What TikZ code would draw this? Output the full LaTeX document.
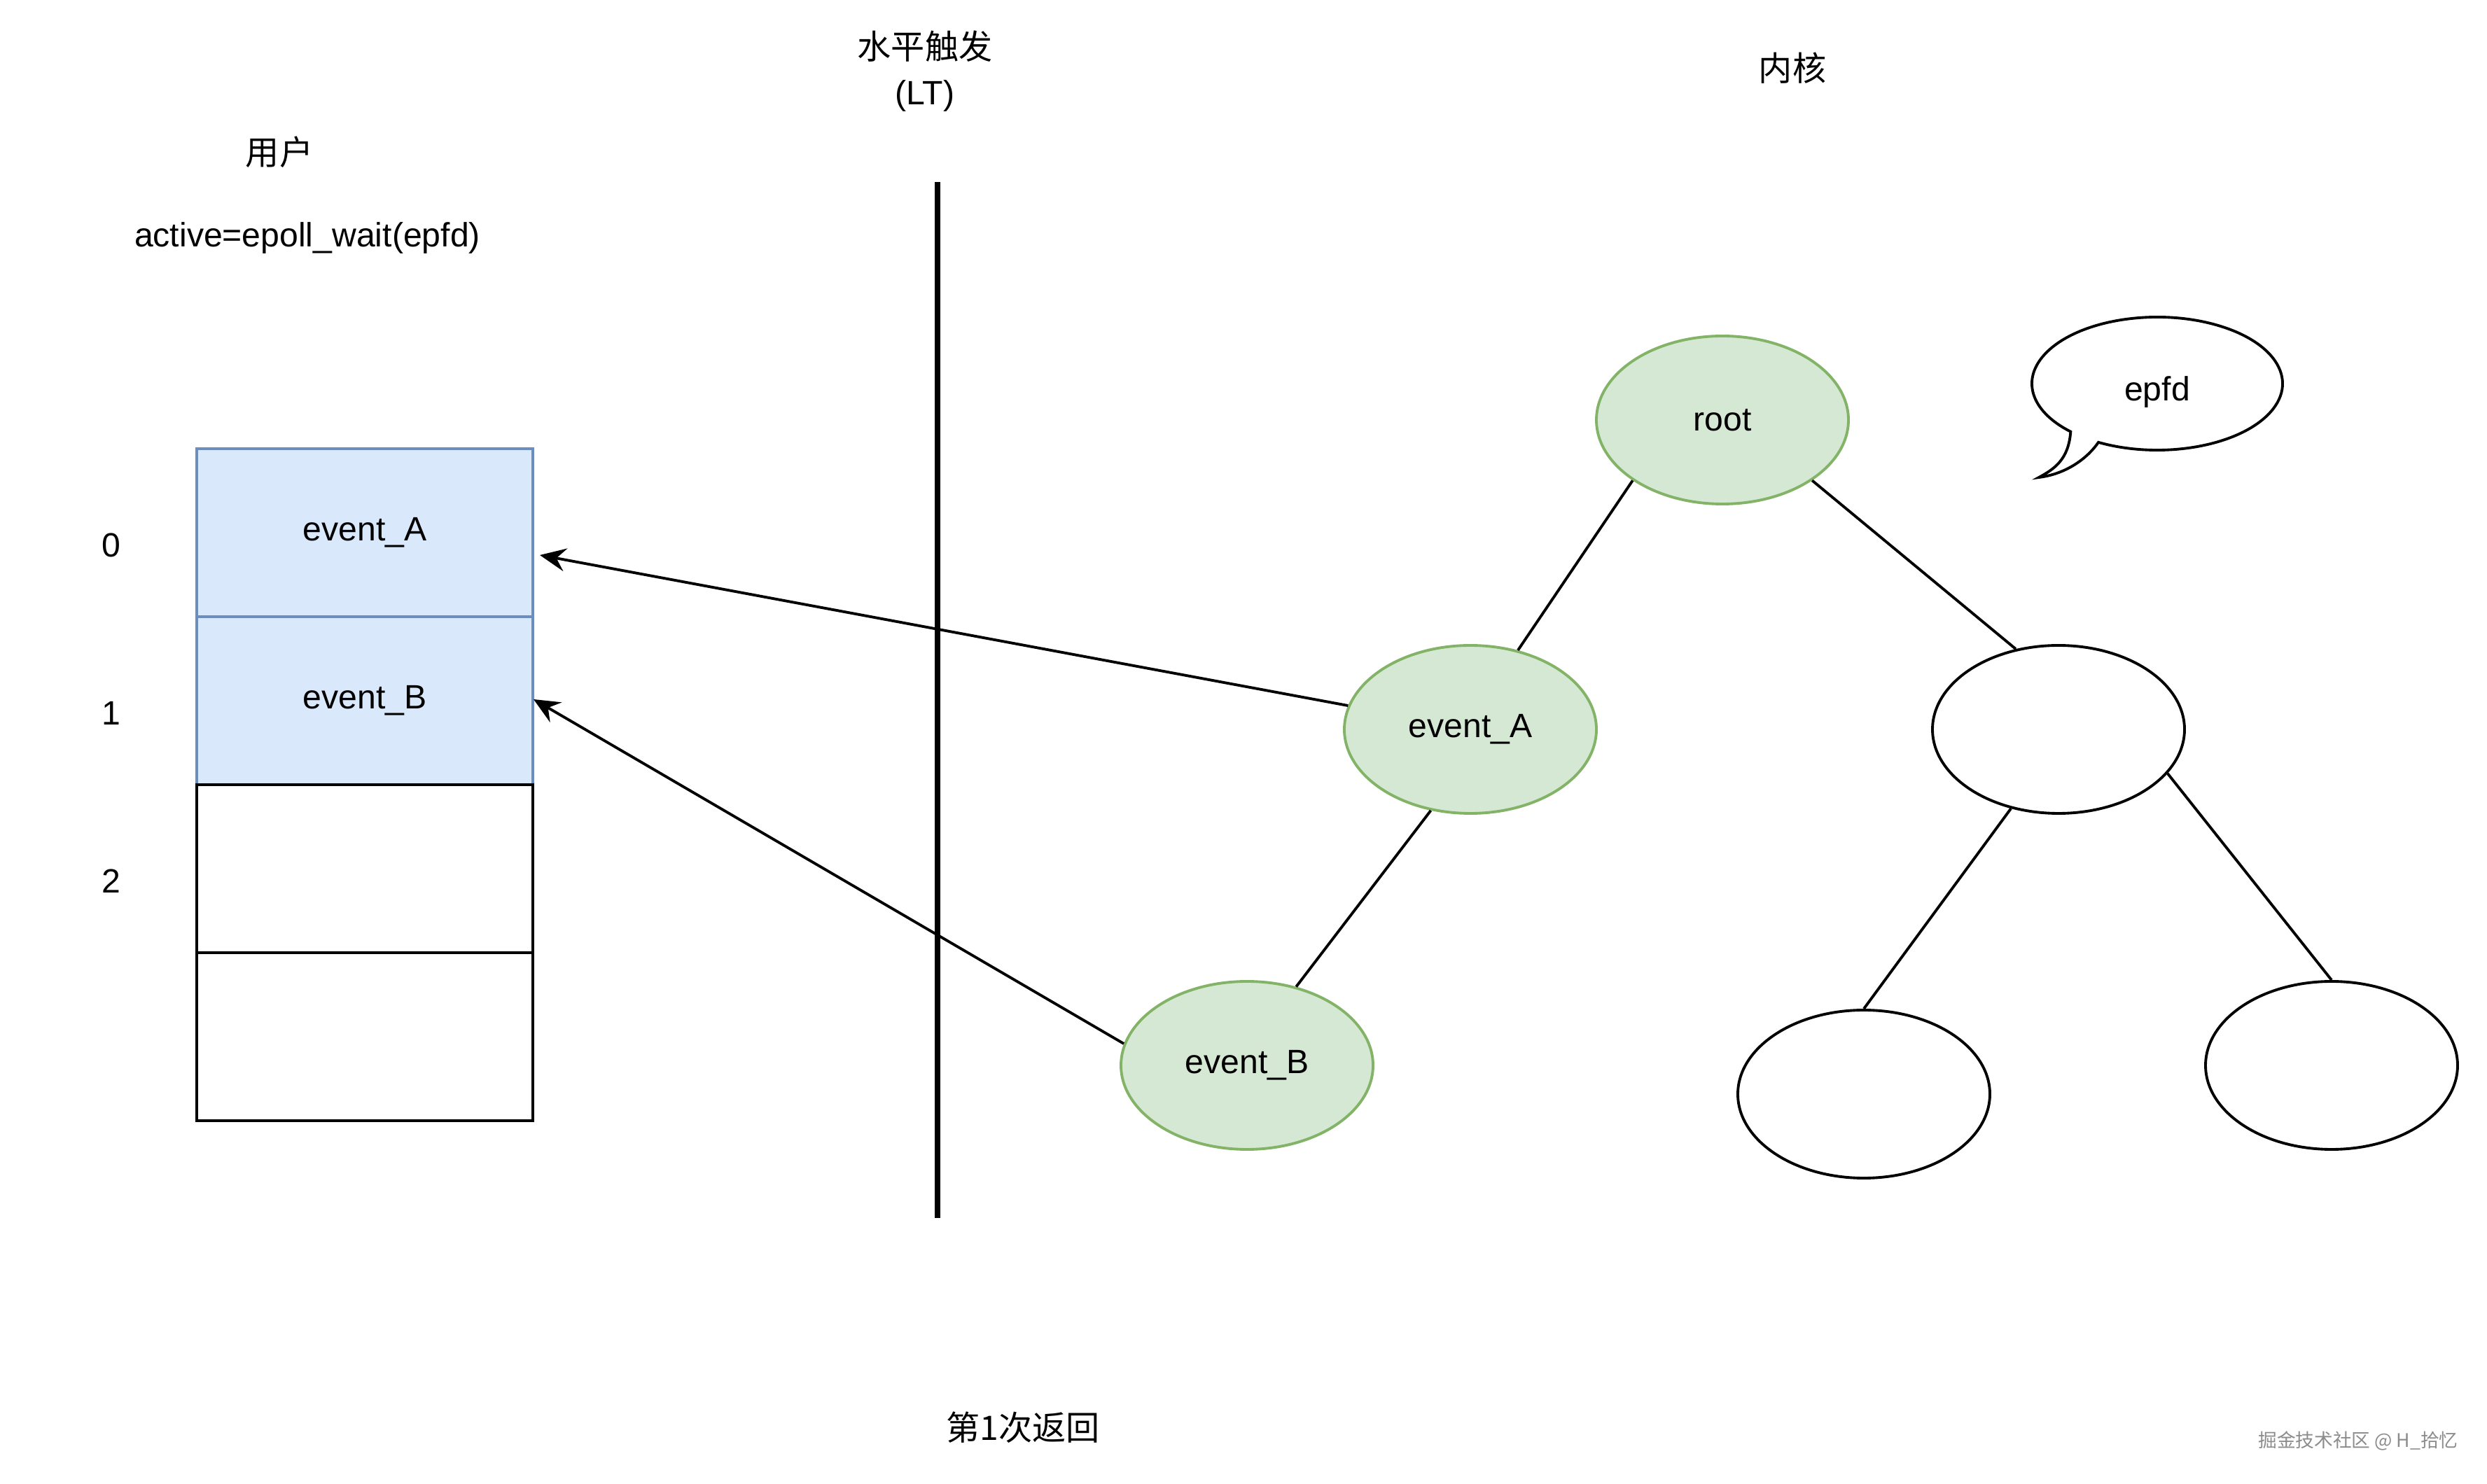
\documentclass[tikz,border=0pt]{standalone}
\usepackage{fontspec}
\setmainfont{Liberation Sans}
\newfontfamily\cjk{Noto Sans CJK SC}
\usetikzlibrary{shapes,arrows.meta,positioning}
\definecolor{cellblue}{HTML}{DAE8FC}
\definecolor{cellbluedraw}{HTML}{6C8EBF}
\definecolor{nodegreen}{HTML}{D5E8D4}
\definecolor{nodegreendraw}{HTML}{82B366}
\tikzset{
  arrslot/.style = {
    rectangle,
    draw=black,
    line width=1.1pt,
    minimum width=4.8cm,
    minimum height=2.4cm,
    inner sep=0pt,
    outer sep=0pt
  },
  readyslot/.style = {
    arrslot,
    draw=cellbluedraw,
    fill=cellblue
  },
  treenode/.style = {
    ellipse,
    draw=black,
    line width=1.1pt,
    minimum width=3.6cm,
    minimum height=2.4cm,
    inner sep=0pt
  },
  hitnode/.style = {
    treenode,
    draw=nodegreendraw,
    fill=nodegreen
  },
  treeedge/.style = {
    line width=1.1pt
  },
  ret/.style = {
    line width=1.1pt,
    -{Stealth[length=3.7mm, width=3.3mm, inset=1.3mm]}
  },
  divider/.style = {
    line width=2.3pt
  },
  lbl/.style = {
    inner sep=0pt,
    align=center
  }
}

\begin{document}
\begin{tikzpicture}[font=\fontsize{13.7}{16.4}\selectfont]

% Rahmen
\fill[white] (0,0) rectangle (35.52,-21.2);
\useasboundingbox (0,0) rectangle (35.52,-21.2);

% Titel
\node[lbl] (user) at (3.99,-2.17) {\cjk 用户};
\node[lbl] (call) at (4.39,-3.40) {active=epoll\_wait(epfd)};
\node[lbl, text depth=0pt] (mode) at (13.21,-0.97) {{\cjk 水平触发}\\[2pt](LT)};
\node[lbl] (kernel) at (25.60,-0.97) {\cjk 内核};
\node[lbl] (round) at (14.61,-20.39) {\cjk 第1次返回};

% Array im Userspace
\node[readyslot] (c0) at (5.21,-7.61) {event\_A};
\node[readyslot, below=0pt of c0] (c1) {event\_B};
\node[arrslot, below=0pt of c1] (c2) {};
\node[arrslot, below=0pt of c2] (c3) {};

\node[lbl] (idx0) at (1.59,-7.79) {0};
\node[lbl] (idx1) at (1.59,-10.19) {1};
\node[lbl] (idx2) at (1.59,-12.59) {2};

% Trennlinie
\coordinate (lttop) at (13.39,-2.60);
\coordinate (ltbot) at (13.39,-17.40);
\draw[divider] (lttop) -- (ltbot);

% Baum im Kernel
\node[treenode, hitnode] (root) at (24.60,-6.00) {root};
\node[hitnode] (evA) at (21.00,-10.42) {event\_A};
\node[treenode] (right) at (29.40,-10.42) {};
\node[hitnode] (evB) at (17.81,-15.22) {event\_B};
\node[treenode] (leafl) at (26.62,-15.63) {};
\node[treenode] (leafr) at (33.30,-15.22) {};

\draw[treeedge] (root.214) -- (evA.59);
\draw[treeedge] (root.326) -- (right.118);
\draw[treeedge] (evA.244) -- (evB.58);
\draw[treeedge] (right.239) -- (leafl.90);
\draw[treeedge] (right.338) -- (leafr.90);

% Callout epfd
\coordinate (bubble) at (30.81,-5.48);
\coordinate (bubbletip) at (29.12,-6.82);
\draw[line width=1.1pt, fill=white]
  ([shift={(242:1.79 and 0.95)}]bubble)
  arc[start angle=242, end angle=586.3, x radius=1.79, y radius=0.95]
  .. controls +(-0.03,-0.40) and +(0.22,0.12) .. (bubbletip)
  .. controls +(0.40,0.05) and +(-0.15,-0.22) .. cycle;
\node[lbl] (epfd) at (30.81,-5.60) {epfd};

% Rueckgabe
\coordinate (inA) at ([xshift=1mm, yshift=-3.2mm]c0.east);
\coordinate (inB) at ([xshift=0.1mm, yshift=0.2mm]c1.east);
\draw[ret] (evA.169.5) -- (inA);
\draw[ret] (evB.170) -- (inB);

% Wasserzeichen
\node[lbl, font=\fontsize{7.6}{9}\selectfont, text=black!45] (mark) at (33.68,-20.58) {\cjk 掘金技术社区 @ H\_拾忆};

\end{tikzpicture}
\end{document}
